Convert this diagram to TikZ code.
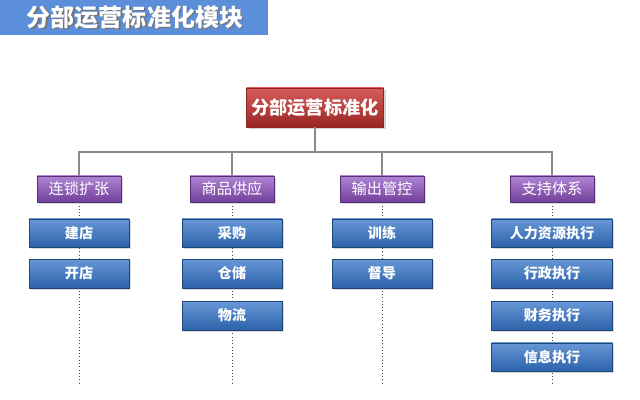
\documentclass[tikz,border=0pt]{standalone}
\usepackage{fontspec}
\newfontfamily\cjk{Noto Sans CJK SC}
\usetikzlibrary{shadows,backgrounds}

\definecolor{titleblue}{HTML}{5B8FD9}
\definecolor{rootred}{HTML}{CC3330}
\definecolor{catpurple}{HTML}{8E50C2}
\definecolor{itemblue}{HTML}{3474C8}
\definecolor{linegray}{HTML}{8A8A8A}

\begin{document}
\begin{tikzpicture}[x=0.03cm, y=-0.03cm, every node/.style={font=\cjk},
    rootbox/.style={draw=rootred!70!black, line width=0.4pt, top color=rootred!80!white, bottom color=rootred!75!black,
        minimum width=137*0.03cm, minimum height=39*0.03cm, inner sep=0pt, text=white,
        font=\cjk\bfseries\fontsize{15.5}{18}\selectfont, drop shadow={opacity=0.35, shadow xshift=2pt, shadow yshift=-2pt}},
    catbox/.style={draw=catpurple!60!black, line width=0.4pt, top color=catpurple!70!white, bottom color=catpurple!80!black,
        minimum width=84*0.03cm, minimum height=26*0.03cm, inner sep=0pt, text=white,
        font=\cjk\fontsize{13}{15}\selectfont, drop shadow={opacity=0.3, shadow xshift=1.5pt, shadow yshift=-1.5pt}},
    itembox/.style={draw=itemblue!60!black, line width=0.4pt, top color=itemblue!75!white, bottom color=itemblue!85!black,
        minimum height=28.5*0.03cm, inner sep=0pt, text=white,
        font=\cjk\bfseries\fontsize{12}{14}\selectfont, drop shadow={opacity=0.3, shadow xshift=1.5pt, shadow yshift=-1.5pt}},
    bus/.style={draw=linegray, line width=1.1pt},
    guide/.style={draw=black!75, dotted, line width=0.8pt}]
\useasboundingbox (0,0) rectangle (640,400);

% title bar
\fill[titleblue] (0,0) rectangle (268,35);
\node[text=black!55, font=\cjk\bfseries\fontsize{20.5}{24}\selectfont] at (136.5,18.5) {分部运营标准化模块};
\node[text=white, font=\cjk\bfseries\fontsize{20.5}{24}\selectfont] (title) at (135,17) {分部运营标准化模块};

% root
\node[rootbox] (root) at (315,107.5) {分部运营标准化};

% categories
\foreach \c/\x/\lab in {1/79/连锁扩张, 2/232/商品供应, 3/382/输出管控, 4/552/支持体系} {
    \node[catbox] (cat\c) at (\x,189) {\lab};
    \coordinate (end\c) at (\x,385);
}
\coordinate (bus) at (315,152);

% rows
\coordinate (row1) at (0,233);
\coordinate (row2) at (0,273.5);
\coordinate (row3) at (0,315.5);
\coordinate (row4) at (0,357);

% items
\foreach \c/\r/\w/\lab in {1/1/100/建店, 1/2/100/开店,
    2/1/100/采购, 2/2/100/仓储, 2/3/100/物流,
    3/1/100/训练, 3/2/100/督导,
    4/1/121/人力资源执行, 4/2/121/行政执行, 4/3/121/财务执行, 4/4/121/信息执行} {
    \node[itembox, minimum width=\w*0.03cm] (it\c\r) at (cat\c |- row\r) {\lab};
}

% connectors
\draw[bus] (root.south) -- (bus);
\draw[bus] (cat1.north) |- (bus) -| (cat4.north);
\foreach \c in {2,3} {
    \draw[bus] (cat\c.north) -- (cat\c |- bus);
}
\begin{scope}[on background layer]
\foreach \c in {1,...,4} {
    \draw[guide] (cat\c.south) -- (end\c);
}
\end{scope}
\end{tikzpicture}
\end{document}
